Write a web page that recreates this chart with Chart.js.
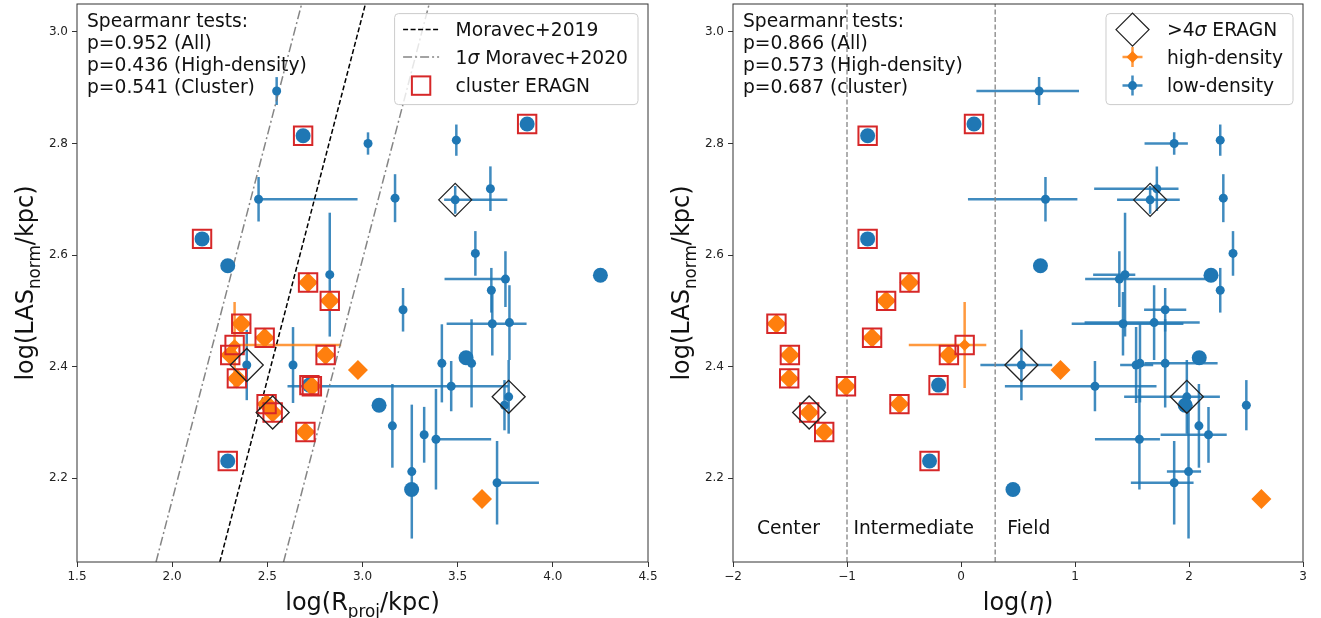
<!DOCTYPE html>
<html lang="en">
<head>
<meta charset="UTF-8">
<title>LAS vs Rproj / eta</title>
<script src="https://cdn.jsdelivr.net/npm/chart.js"></script>
<style>
  body { margin: 0; background: #fff; }
  #wrap { position: relative; width: 1321px; height: 618px; }
  .panel { position: absolute; top: 0; height: 618px; }
  #left { left: 0; width: 660px; }
  #right { left: 660px; width: 661px; }
</style>
</head>
<body>
<div id="wrap">
  <div class="panel" id="left"><canvas id="c1"></canvas></div>
  <div class="panel" id="right"><canvas id="c2"></canvas></div>
</div>
<script>
// low-density sources (small blue points with error bars)
var lowR        = [2.549, 3.029, 3.493, 2.454, 3.171, 3.487, 3.672, 2.828, 3.593, 3.751, 3.677, 3.213, 3.682, 3.772, 2.392, 2.635, 3.417, 3.573, 3.466, 3.768, 3.746, 3.157, 3.324, 3.386, 3.259, 3.707];
var lowRerrLo   = [0, 0, 0, 0, 0, 0.058, 0, 0, 0, 0.32, 0, 0, 0.24, 0, 0, 0, 0, 0, 0.86, 0, 0, 0, 0, 0, 0, 0];
var lowRerrHi   = [0, 0, 0, 0.52, 0, 0.274, 0, 0, 0, 0, 0, 0, 0.18, 0, 0, 0, 0, 0, 0.30, 0, 0, 0, 0, 0.29, 0, 0.22];
var lowEta      = [0.685, 1.870, 2.274, 0.741, 2.301, 1.659, 1.718, 1.439, 2.386, 1.389, 2.274, 1.791, 1.421, 1.694, 0.530, 1.536, 1.57, 1.791, 1.175, 1.981, 2.503, 2.087, 2.171, 1.565, 1.996, 1.870];
var lowEtaErrLo = [0.55, 0.26, 0, 0.68, 0, 0.29, 0.55, 0.28, 0, 0.30, 0, 0.185, 0.45, 0.61, 0.36, 0.14, 0, 0.18, 0.79, 0.55, 0, 0, 0.42, 0.39, 0.19, 0.38];
var lowEtaErrHi = [0.35, 0.12, 0, 0.28, 0, 0.26, 0.19, 0.09, 0, 0.80, 0, 0.185, 0.53, 0.40, 0.27, 0.15, 0, 0.46, 0.54, 0.29, 0, 0, 0.16, 0.18, 0.11, 0.17];
var lowLAS      = [2.894, 2.800, 2.806, 2.700, 2.702, 2.699, 2.719, 2.565, 2.603, 2.557, 2.537, 2.502, 2.477, 2.479, 2.403, 2.403, 2.406, 2.406, 2.365, 2.346, 2.331, 2.294, 2.278, 2.270, 2.212, 2.192];
var lowLASerr   = [0.025, 0.02, 0.028, 0.04, 0.043, 0.025, 0.04, 0.111, 0.04, 0.05, 0.04, 0.039, 0.057, 0.067, 0.063, 0.068, 0.07, 0.079, 0.045, 0.066, 0.045, 0.075, 0.05, 0.09, 0.12, 0.075];
var lowEragn    = [0, 0, 0, 0, 0, 1, 0, 0, 0, 0, 0, 0, 0, 0, 1, 0, 0, 0, 0, 1, 0, 0, 0, 0, 0, 0];

// big blue circles (no error bars)
var bigR       = [2.688, 3.865, 2.157, 2.292, 4.250, 3.544, 2.721, 3.087, 2.292, 3.258];
var bigEta     = [-0.819, 0.114, -0.819, 0.697, 2.193, 2.090, -0.197, 1.967, -0.276, 0.456];
var bigLAS     = [2.814, 2.835, 2.629, 2.581, 2.564, 2.416, 2.367, 2.331, 2.231, 2.180];
var bigCluster = [1, 1, 1, 0, 0, 0, 1, 0, 1, 0];

// high-density diamonds (no error bars)
var hdR       = [2.714, 2.828, 2.363, 2.486, 2.305, 2.806, 2.976, 2.340, 2.734, 2.496, 2.528, 2.700, 3.628];
var hdEta     = [-0.452, -0.657, -1.619, -0.780, -1.501, -0.106, 0.873, -1.507, -1.009, -0.540, -1.332, -1.200, 2.635];
var hdLAS     = [2.551, 2.518, 2.477, 2.452, 2.421, 2.421, 2.394, 2.379, 2.365, 2.333, 2.318, 2.283, 2.163];
var hdCluster = [1, 1, 1, 1, 1, 1, 0, 1, 1, 1, 1, 1, 0];
var hdEragn   = [0, 0, 0, 0, 0, 0, 0, 0, 0, 0, 1, 0, 0];

// high-density with error bars
var hdErrR       = [2.328];
var hdErrRLo     = [0];
var hdErrRHi     = [0.56];
var hdErrEta     = [0.032];
var hdErrEtaLo   = [0.49];
var hdErrEtaHi   = [0.19];
var hdErrLAS     = [2.439];
var hdErrLASerr  = [0.077];
var hdErrCluster = [1];

// Moravec+2019 relation  log(LAS) = a*log(R) + b, 1 sigma offset in log(R)
var moravecSlope = 1.307;
var moravecIntercept = -0.891;
var moravecSigma = 0.335;

// environment boundaries in log(eta)
var etaEdges = [-1, 0.3];
var regionNames = ['Center', 'Intermediate', 'Field'];
var regionEta = [-1.79, -0.944, 0.406];
var regionLAS = 2.10;

var rTicks = [1.5, 2.0, 2.5, 3.0, 3.5, 4.0, 4.5];
var etaTicks = [-2, -1, 0, 1, 2, 3];
var lasTicks = [2.2, 2.4, 2.6, 2.8, 3.0];
var lasMin = 2.05, lasMax = 3.05;

var spearmanLeft = ['Spearmanr tests:', 'p=0.952 (All)', 'p=0.436 (High-density)', 'p=0.541 (Cluster)'];
var spearmanRight = ['Spearmanr tests:', 'p=0.866 (All)', 'p=0.573 (High-density)', 'p=0.687 (cluster)'];

var FONT = '"DejaVu Sans", "Liberation Sans", sans-serif';
var TXT = 18.7;   // annotation / legend size
var blue = '#1f77b4', orange = '#ff7f0e', red = '#d62728';
var blueBar = 'rgba(31,119,180,0.85)', orangeBar = 'rgba(255,127,14,0.8)';

function pts(xs, ys, keep) {
  var out = [];
  for (var i = 0; i < xs.length; i++) {
    if (!keep || keep[i]) out.push({ x: xs[i], y: ys[i] });
  }
  return out;
}

function lineDs(data, color, dash, order) {
  return { data: data, showLine: true, fill: false, pointRadius: 0, borderColor: color,
           borderWidth: 1.5, borderDash: dash, order: order };
}

function panelDatasets(useEta) {
  var lx = useEta ? lowEta : lowR;
  var bx = useEta ? bigEta : bigR;
  var hx = useEta ? hdEta : hdR;
  var ex = useEta ? hdErrEta : hdErrR;

  var lowBars = lowLAS.map(function (v, i) {
    return { xlo: useEta ? lowEtaErrLo[i] : lowRerrLo[i], xhi: useEta ? lowEtaErrHi[i] : lowRerrHi[i], y: lowLASerr[i] };
  });
  var hdBars = hdErrLAS.map(function (v, i) {
    return { xlo: useEta ? hdErrEtaLo[i] : hdErrRLo[i], xhi: useEta ? hdErrEtaHi[i] : hdErrRHi[i], y: hdErrLASerr[i] };
  });

  var sets = [];
  if (!useEta) {
    var xAt = function (y, off) { return (y - moravecIntercept) / moravecSlope + off; };
    sets.push(lineDs([{ x: xAt(lasMin, 0), y: lasMin }, { x: xAt(lasMax, 0), y: lasMax }], '#000', [5, 2.5], 10));
    [-moravecSigma, moravecSigma].forEach(function (o) {
      sets.push(lineDs([{ x: xAt(lasMin, o), y: lasMin }, { x: xAt(lasMax, o), y: lasMax }], 'rgba(120,120,120,0.9)', [9, 3, 2, 3], 10));
    });
  } else {
    etaEdges.forEach(function (e) {
      sets.push(lineDs([{ x: e, y: lasMin }, { x: e, y: lasMax }], 'rgba(130,130,130,0.85)', [5, 2.5], 10));
    });
  }

  sets.push({ data: pts(lx, lowLAS), errorBars: lowBars, errorColor: blueBar, pointStyle: 'circle',
              pointRadius: 4.5, pointBackgroundColor: blue, pointBorderWidth: 0, order: 9 });
  sets.push({ data: pts(bx, bigLAS), pointStyle: 'circle', pointRadius: 7.5,
              pointBackgroundColor: blue, pointBorderWidth: 0, order: 8 });
  sets.push({ data: pts(hx, hdLAS), pointStyle: 'rectRot', pointRadius: 10,
              pointBackgroundColor: orange, pointBorderWidth: 0, order: 7 });
  sets.push({ data: pts(ex, hdErrLAS), errorBars: hdBars, errorColor: orangeBar, pointStyle: 'rectRot',
              pointRadius: 6, pointBackgroundColor: orange, pointBorderWidth: 0, order: 6 });

  var sq = pts(bx, bigLAS, bigCluster).concat(pts(hx, hdLAS, hdCluster), pts(ex, hdErrLAS, hdErrCluster));
  sets.push({ data: sq, pointStyle: 'rect', pointRadius: 13, pointBackgroundColor: 'rgba(0,0,0,0)',
              pointBorderColor: red, pointBorderWidth: 2, order: 5 });

  var dia = pts(lx, lowLAS, lowEragn).concat(pts(hx, hdLAS, hdEragn));
  sets.push({ data: dia, pointStyle: 'rectRot', pointRadius: 16.5, pointBackgroundColor: 'rgba(0,0,0,0)',
              pointBorderColor: '#222', pointBorderWidth: 1.3, order: 4 });
  return sets;
}

// error bars drawn with the chart scales, under the markers
var errorBarPlugin = {
  id: 'errorBars',
  beforeDatasetsDraw: function (chart) {
    var ctx = chart.ctx, xs = chart.scales.x, ys = chart.scales.y, a = chart.chartArea;
    ctx.save();
    ctx.beginPath();
    ctx.rect(a.left, a.top, a.right - a.left, a.bottom - a.top);
    ctx.clip();
    ctx.lineWidth = 2.5;
    chart.data.datasets.forEach(function (ds) {
      if (!ds.errorBars) return;
      ctx.strokeStyle = ds.errorColor;
      ds.data.forEach(function (p, i) {
        var e = ds.errorBars[i];
        var px = xs.getPixelForValue(p.x), py = ys.getPixelForValue(p.y);
        ctx.beginPath();
        if (e.xlo || e.xhi) {
          ctx.moveTo(xs.getPixelForValue(p.x - e.xlo), py);
          ctx.lineTo(xs.getPixelForValue(p.x + e.xhi), py);
        }
        if (e.y) {
          ctx.moveTo(px, ys.getPixelForValue(p.y - e.y));
          ctx.lineTo(px, ys.getPixelForValue(p.y + e.y));
        }
        ctx.stroke();
      });
    });
    ctx.restore();
  }
};

// text with subscripts / italic parts
function richWidth(ctx, segs, size) {
  var w = 0;
  segs.forEach(function (s) {
    ctx.font = (s.it ? 'italic ' : '') + (s.sub ? size * 0.7 : size) + 'px ' + FONT;
    w += ctx.measureText(s.t).width;
  });
  return w;
}
function drawRich(ctx, segs, x, y, size, align) {
  var cx = align === 'center' ? x - richWidth(ctx, segs, size) / 2 : x;
  ctx.textBaseline = 'alphabetic';
  ctx.textAlign = 'left';
  segs.forEach(function (s) {
    ctx.font = (s.it ? 'italic ' : '') + (s.sub ? size * 0.7 : size) + 'px ' + FONT;
    ctx.fillText(s.t, cx, y + (s.sub ? size * 0.28 : 0));
    cx += ctx.measureText(s.t).width;
  });
}

function roundRect(ctx, x, y, w, h, r) {
  ctx.beginPath();
  ctx.moveTo(x + r, y);
  ctx.arcTo(x + w, y, x + w, y + h, r);
  ctx.arcTo(x + w, y + h, x, y + h, r);
  ctx.arcTo(x, y + h, x, y, r);
  ctx.arcTo(x, y, x + w, y, r);
  ctx.closePath();
}

function drawHandle(ctx, kind, cx, cy) {
  ctx.save();
  if (kind === 'dash' || kind === 'dashdot') {
    ctx.strokeStyle = kind === 'dash' ? '#000' : 'rgba(120,120,120,0.9)';
    ctx.lineWidth = 1.5;
    ctx.setLineDash(kind === 'dash' ? [5, 2.5] : [9, 3, 2, 3]);
    ctx.beginPath(); ctx.moveTo(cx - 18, cy); ctx.lineTo(cx + 18, cy); ctx.stroke();
  } else if (kind === 'square') {
    ctx.strokeStyle = red; ctx.lineWidth = 2;
    ctx.strokeRect(cx - 9.2, cy - 9.2, 18.4, 18.4);
  } else if (kind === 'diamond') {
    ctx.strokeStyle = '#222'; ctx.lineWidth = 1.3;
    ctx.beginPath();
    ctx.moveTo(cx - 16.5, cy); ctx.lineTo(cx, cy - 16.5); ctx.lineTo(cx + 16.5, cy); ctx.lineTo(cx, cy + 16.5);
    ctx.closePath(); ctx.stroke();
  } else {
    var hi = kind === 'orangeErr';
    ctx.strokeStyle = hi ? orangeBar : blueBar; ctx.lineWidth = 2.5;
    ctx.beginPath();
    ctx.moveTo(cx - 10, cy); ctx.lineTo(cx + 10, cy);
    ctx.moveTo(cx, cy - 10); ctx.lineTo(cx, cy + 10);
    ctx.stroke();
    ctx.fillStyle = hi ? orange : blue;
    ctx.beginPath();
    if (hi) { ctx.moveTo(cx - 6, cy); ctx.lineTo(cx, cy - 6); ctx.lineTo(cx + 6, cy); ctx.lineTo(cx, cy + 6); ctx.closePath(); }
    else ctx.arc(cx, cy, 4.5, 0, Math.PI * 2);
    ctx.fill();
  }
  ctx.restore();
}

function decorPlugin(cfg) {
  return {
    id: 'decor',
    afterDraw: function (chart) {
      var ctx = chart.ctx, a = chart.chartArea;
      ctx.save();
      ctx.strokeStyle = '#333'; ctx.lineWidth = 1;
      ctx.strokeRect(a.left, a.top, a.right - a.left, a.bottom - a.top);

      ctx.fillStyle = '#111';
      drawRich(ctx, cfg.xTitle, (a.left + a.right) / 2, 610, 24, 'center');
      ctx.save();
      ctx.translate(a.left - 44, (a.top + a.bottom) / 2);
      ctx.rotate(-Math.PI / 2);
      drawRich(ctx, cfg.yTitle, 0, 0, 24, 'center');
      ctx.restore();

      // Spearman annotation
      ctx.font = TXT + 'px ' + FONT; ctx.textAlign = 'left'; ctx.textBaseline = 'alphabetic';
      cfg.notes.forEach(function (t, i) { ctx.fillText(t, a.left + 10, a.top + 22.5 + i * 22); });

      // region labels (right panel)
      if (cfg.regions) {
        var xs = chart.scales.x, ys = chart.scales.y;
        ctx.font = TXT + 'px ' + FONT;
        regionNames.forEach(function (t, i) {
          ctx.fillText(t, xs.getPixelForValue(regionEta[i]), ys.getPixelForValue(regionLAS));
        });
      }

      // legend box
      var tw = 0;
      cfg.legend.forEach(function (it) { tw = Math.max(tw, richWidth(ctx, it.segs, TXT)); });
      var bw = 61 + tw + 10, bh = 91;
      var bx = a.right - 10 - bw, by = a.top + 9.6;
      roundRect(ctx, bx, by, bw, bh, 4);
      ctx.fillStyle = 'rgba(255,255,255,0.8)'; ctx.fill();
      ctx.strokeStyle = '#cccccc'; ctx.lineWidth = 1; ctx.stroke();
      var rows = [16, 43.5, 72];
      cfg.legend.forEach(function (it, i) {
        drawHandle(ctx, it.kind, bx + 26.5, by + rows[i]);
        ctx.fillStyle = '#111';
        drawRich(ctx, it.segs, bx + 61, by + rows[i] + 6.8, TXT, 'left');
      });
      ctx.restore();
    }
  };
}

function fmt1(v) { return Number(v).toFixed(1); }
function fmtInt(v) { return v < 0 ? '\u2212' + Math.abs(v) : String(v); }

function makeChart(id, useEta, xMin, xMax, xTicks, xFmt, yWidth, padRight, decor) {
  var tickFont = { family: FONT, size: 12 };
  return new Chart(document.getElementById(id), {
    type: 'scatter',
    data: { datasets: panelDatasets(useEta) },
    options: {
      responsive: true,
      maintainAspectRatio: false,
      animation: false,
      events: [],
      layout: { autoPadding: false, padding: { top: 4, right: padRight, left: 0, bottom: 0 } },
      plugins: { legend: { display: false }, tooltip: { enabled: false } },
      scales: {
        x: {
          type: 'linear', min: xMin, max: xMax,
          afterBuildTicks: function (s) { s.ticks = xTicks.map(function (v) { return { value: v }; }); },
          afterFit: function (s) { s.height = 56; s.paddingLeft = 0; s.paddingRight = 0; },
          grid: { drawOnChartArea: false, drawTicks: true, tickLength: 5, color: '#333' },
          border: { display: false },
          ticks: { font: tickFont, color: '#222', padding: 3, maxRotation: 0, autoSkip: false, callback: xFmt }
        },
        y: {
          type: 'linear', min: lasMin, max: lasMax,
          afterBuildTicks: function (s) { s.ticks = lasTicks.map(function (v) { return { value: v }; }); },
          afterFit: function (s) { s.width = yWidth; s.paddingTop = 0; s.paddingBottom = 0; },
          grid: { drawOnChartArea: false, drawTicks: true, tickLength: 5, color: '#333' },
          border: { display: false },
          ticks: { font: tickFont, color: '#222', padding: 4, autoSkip: false, callback: fmt1 }
        }
      }
    },
    plugins: [errorBarPlugin, decor]
  });
}

makeChart('c1', false, 1.5, 4.5, rTicks, fmt1, 77, 12, decorPlugin({
  xTitle: [{ t: 'log(R' }, { t: 'proj', sub: true }, { t: '/kpc)' }],
  yTitle: [{ t: 'log(LAS' }, { t: 'norm', sub: true }, { t: '/kpc)' }],
  notes: spearmanLeft,
  legend: [
    { kind: 'dash', segs: [{ t: 'Moravec+2019' }] },
    { kind: 'dashdot', segs: [{ t: '1' }, { t: '\u03c3', it: true }, { t: ' Moravec+2020' }] },
    { kind: 'square', segs: [{ t: 'cluster ERAGN' }] }
  ]
}));

makeChart('c2', true, -2, 3, etaTicks, fmtInt, 73, 18, decorPlugin({
  xTitle: [{ t: 'log(' }, { t: '\u03b7', it: true }, { t: ')' }],
  yTitle: [{ t: 'log(LAS' }, { t: 'norm', sub: true }, { t: '/kpc)' }],
  notes: spearmanRight,
  regions: true,
  legend: [
    { kind: 'diamond', segs: [{ t: '>4' }, { t: '\u03c3', it: true }, { t: ' ERAGN' }] },
    { kind: 'orangeErr', segs: [{ t: 'high-density' }] },
    { kind: 'blueErr', segs: [{ t: 'low-density' }] }
  ]
}));
</script>
</body>
</html>
